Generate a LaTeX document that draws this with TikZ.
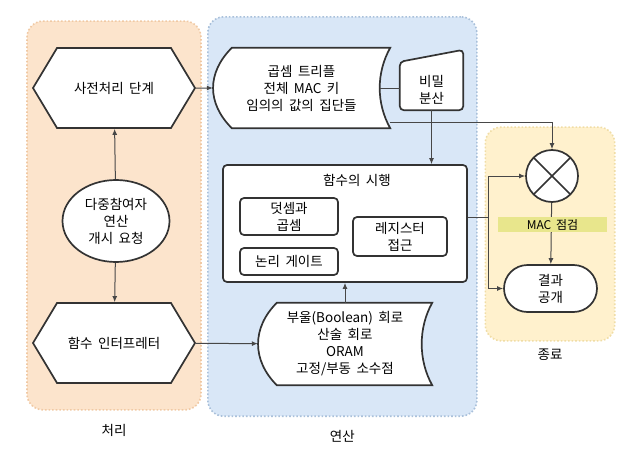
\documentclass[tikz,border=0pt]{standalone}
\usepackage{fontspec}
\setmainfont[WordSpace=1.8]{Noto Sans CJK KR}
\usepackage{tikz}
\usetikzlibrary{shapes.geometric,shapes.symbols,shapes.misc,arrows.meta,positioning,fit,backgrounds}
\pgfdeclarelayer{outline}
\pgfsetlayers{background,outline,main}

\definecolor{procfill}{HTML}{FCE4CC}
\definecolor{procline}{HTML}{F0C9A4}
\definecolor{opfill}{HTML}{D9E7F7}
\definecolor{opline}{HTML}{A9C0DA}
\definecolor{endfill}{HTML}{FFF1CD}
\definecolor{endline}{HTML}{F0DDA6}
\definecolor{chkfill}{HTML}{E8E68C}
\definecolor{ink}{HTML}{333333}

\begin{document}
\begin{tikzpicture}[
  x=1pt, y=1pt,
  font=\fontsize{13.5}{17}\selectfont,
  shp/.style={draw=ink, line width=1.7pt, fill=white, align=center},
  hexa/.style={shp, signal, signal to=west and east, signal pointer angle=118,
    minimum width=162pt, minimum height=80pt},
  store/.style={align=center, inner sep=0pt},
  box/.style={shp, rounded corners=4pt},
  conn/.style={draw=ink!90, line width=1pt},
  zone/.style={dotted, line width=1.6pt, rounded corners=16pt},
  >={Latex[length=6pt,width=5pt]}
]
\useasboundingbox (0,0) rectangle (640,-455);

% Processing
\node[hexa] (hexA) at (114,-88) {사전처리 단계};
\node[shp, ellipse, minimum width=107pt, minimum height=82pt, inner sep=0pt] (req) at (116,-221)
  {다중참여자\\연산\\개시 요청};
\node[hexa] (hexB) at (114,-343) {함수 인터프레터};

% Operation
\node[store, minimum width=177pt, minimum height=80pt] (dat) at (301.5,-88)
  {곱셈 트리플\\전체 MAC 키\\임의의 값의 집단들};
\node[store, minimum width=63pt, minimum height=40pt] (sec) at (431.5,-90) {비밀\\분산};
\node[box, minimum width=244pt, minimum height=117pt,
  label={[anchor=north, yshift=-7pt, xshift=12pt]north:함수의 시행}] (fn) at (345,-223.5) {};
\node[box, minimum width=98pt, minimum height=37pt, inner sep=1pt] (add) at (289,-216.5) {덧셈과\\곱셈};
\node[box, minimum width=98pt, minimum height=27pt] (logic) at (289,-261.5) {논리 게이트};
\node[box, minimum width=94pt, minimum height=39pt, inner sep=1pt] (reg) at (400,-236.5) {레지스터\\접근};
\node[store, minimum width=174pt, minimum height=82pt] (bot) at (345,-344)
  {부울(Boolean) 회로\\산술 회로\\ORAM\\고정/부동 소수점};

% Finish
\node[shp, circle, minimum size=52pt, path picture={
  \draw[ink, line width=1.7pt] (path picture bounding box.north west) -- (path picture bounding box.south east)
    (path picture bounding box.north east) -- (path picture bounding box.south west);}] (xc) at (552,-176) {};
\node[shp, rounded rectangle, minimum width=95pt, minimum height=47pt, inner sep=1pt] (res) at (550.5,-288.5) {결과\\공개};

% Shape outlines
\begin{pgfonlayer}{outline}
  \path[shp] ([xshift=19pt]dat.north west) -- (dat.north east)
    .. controls +(-14,-25) and +(-14,25) .. (dat.south east)
    -- ([xshift=19pt]dat.south west)
    .. controls +(-25,25) and +(-25,-25) .. ([xshift=19pt]dat.north west) -- cycle;
  \path[shp] ([xshift=19pt]bot.north west) -- (bot.north east)
    .. controls +(-14,-25) and +(-14,25) .. (bot.south east)
    -- ([xshift=19pt]bot.south west)
    .. controls +(-25,25) and +(-25,-25) .. ([xshift=19pt]bot.north west) -- cycle;
  \path[shp, rounded corners=4pt] (sec.south west) -- ([yshift=8pt]sec.north west)
    -- ([yshift=20pt]sec.north east) -- (sec.south east) -- cycle;
\end{pgfonlayer}

% Connectors
\draw[conn,->] (req) -- (hexA);
\draw[conn,->] (req) -- (hexB);
\draw[conn,->] (hexA) -- (dat);
\draw[conn,->] (hexB) -- (bot);
\draw[conn] ([xshift=-10pt]dat.east) -- (dat.east -| sec.west);
\draw[conn,->] ([yshift=6pt]dat.south east) -| (xc.north);
\draw[conn,->] (sec.south) -- (sec.south |- fn.north);
\draw[conn,->] (bot) -- (fn);
\draw[conn,->] ([yshift=6pt]fn.east) -- ++(21,0) |- (xc.west);
\draw[conn,->] ([yshift=6pt]fn.east) -- ++(21,0) |- (res.west);
\draw[conn,->] (xc) -- (res);
\node[fill=chkfill, minimum width=109pt, minimum height=15pt, inner sep=0pt,
  font=\fontsize{12}{13}\selectfont] (macchk) at (552.5,-224.5) {MAC 점검};

% Zones
\begin{scope}[on background layer]
  \node[zone, draw=procline, fill=procfill, fit=(hexA)(hexB), inner xsep=5pt, inner ysep=26pt,
    label={[yshift=-10pt]below:처리}] {};
  \node[zone, draw=opline, fill=opfill, fit=(dat)(fn)(bot), inner xsep=7pt, inner ysep=31pt,
    xshift=2pt, label={[yshift=-10pt]below:연산}] {};
  \node[zone, draw=endline, fill=endfill, fit=(xc)(macchk)(res), inner xsep=10pt, inner ysep=25pt,
    xshift=-2.5pt, yshift=-3pt, label={[yshift=-4pt]below:종료}] {};
\end{scope}
\end{tikzpicture}
\end{document}
